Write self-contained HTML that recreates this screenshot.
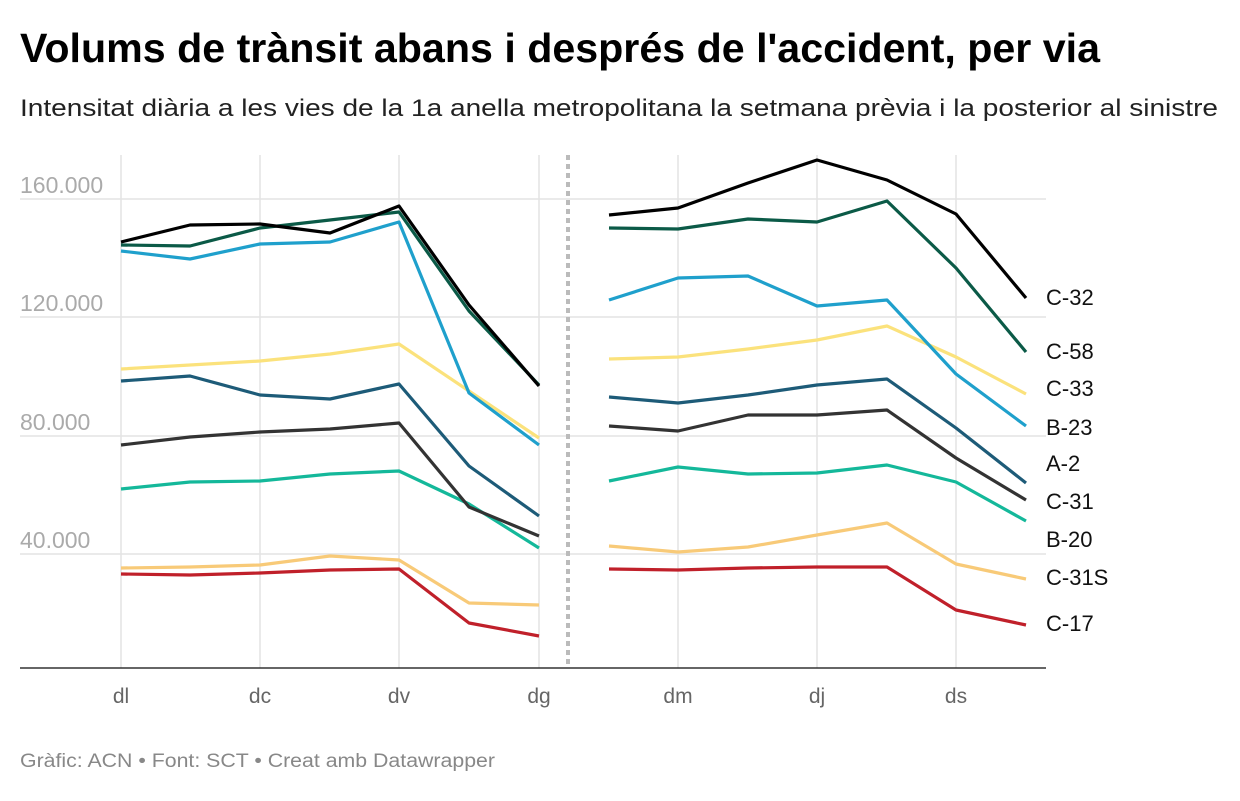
<!DOCTYPE html>
<html><head><meta charset="utf-8"><style>
body{margin:0;background:#fff;width:1240px;height:796px;overflow:hidden;font-family:"Liberation Sans",sans-serif}
</style></head><body>
<svg width="1240" height="796" xmlns="http://www.w3.org/2000/svg" font-family="Liberation Sans, sans-serif">
<text x="20" y="62" font-size="41" font-weight="bold" fill="#000" textLength="1080" lengthAdjust="spacingAndGlyphs">Volums de trànsit abans i després de l'accident, per via</text>
<text x="20" y="116" font-size="24" fill="#222" textLength="1198" lengthAdjust="spacingAndGlyphs">Intensitat diària a les vies de la 1a anella metropolitana la setmana prèvia i la posterior al sinistre</text>
<g stroke="#e3e3e3" stroke-width="1.5">
<line x1="121" y1="155" x2="121" y2="668"/><line x1="260" y1="155" x2="260" y2="668"/><line x1="399" y1="155" x2="399" y2="668"/><line x1="539" y1="155" x2="539" y2="668"/><line x1="678" y1="155" x2="678" y2="668"/><line x1="817" y1="155" x2="817" y2="668"/><line x1="956" y1="155" x2="956" y2="668"/>
<line x1="20" y1="199" x2="1046" y2="199"/><line x1="20" y1="317" x2="1046" y2="317"/><line x1="20" y1="436" x2="1046" y2="436"/><line x1="20" y1="554" x2="1046" y2="554"/>
</g>
<line x1="20" y1="668" x2="1046" y2="668" stroke="#333" stroke-width="1.5"/>
<line x1="568" y1="155" x2="568" y2="668" stroke="#bbb" stroke-width="4" stroke-dasharray="5,4"/>
<g font-size="23" fill="#aaa">
<text x="20" y="193">160.000</text><text x="20" y="311">120.000</text><text x="20" y="430">80.000</text><text x="20" y="548">40.000</text>
</g>
<g font-size="21" fill="#666" text-anchor="middle">
<text x="121" y="703">dl</text><text x="260" y="703">dc</text><text x="399" y="703">dv</text><text x="539" y="703">dg</text><text x="678" y="703">dm</text><text x="817" y="703">dj</text><text x="956" y="703">ds</text>
</g>
<g fill="none" stroke-width="3.2" stroke-linejoin="round">
<polyline stroke="#c0202a" points="121,574 190,575 260,573 330,570 399,569 469,623 539,636"/><polyline stroke="#c0202a" points="609,569 678,570 748,568 817,567 887,567 956,610 1026,625"/>
<polyline stroke="#f8ca78" points="121,568 190,567 260,565 330,556 399,560 469,603 539,605"/><polyline stroke="#f8ca78" points="609,546 678,552 748,547 817,535 887,523 956,564 1026,579"/>
<polyline stroke="#14b89a" points="121,489 190,482 260,481 330,474 399,471 469,504 539,548"/><polyline stroke="#14b89a" points="609,481 678,467 748,474 817,473 887,465 956,482 1026,521"/>
<polyline stroke="#333" points="121,445 190,437 260,432 330,429 399,423 469,507 539,536"/><polyline stroke="#333" points="609,426 678,431 748,415 817,415 887,410 956,458 1026,500"/>
<polyline stroke="#1d5b78" points="121,381 190,376 260,395 330,399 399,384 469,466 539,516"/><polyline stroke="#1d5b78" points="609,397 678,403 748,395 817,385 887,379 956,428 1026,483"/>
<polyline stroke="#fbe27c" points="121,369 190,365 260,361 330,354 399,344 469,391 539,438"/><polyline stroke="#fbe27c" points="609,359 678,357 748,349 817,340 887,326 956,357 1026,394"/>
<polyline stroke="#1fa0cc" points="121,251 190,259 260,244 330,242 399,222 469,393 539,445"/><polyline stroke="#1fa0cc" points="609,300 678,278 748,276 817,306 887,300 956,374 1026,426"/>
<polyline stroke="#0b5a47" points="121,245 190,246 260,228 330,220 399,212 469,311 539,385"/><polyline stroke="#0b5a47" points="609,228 678,229 748,219 817,222 887,201 956,268 1026,352"/>
<polyline stroke="#000" points="121,242 190,225 260,224 330,233 399,206 469,305 539,386"/><polyline stroke="#000" points="609,215 678,208 748,183 817,160 887,180 956,214 1026,298"/>
</g>
<g font-size="22" fill="#111">
<text x="1046" y="305">C-32</text><text x="1046" y="359">C-58</text><text x="1046" y="396">C-33</text><text x="1046" y="435">B-23</text><text x="1046" y="471">A-2</text><text x="1046" y="509">C-31</text><text x="1046" y="547">B-20</text><text x="1046" y="585">C-31S</text><text x="1046" y="631">C-17</text>
</g>
<text x="20" y="767" font-size="19" fill="#888" textLength="475" lengthAdjust="spacingAndGlyphs">Gràfic: ACN • Font: SCT • Creat amb Datawrapper</text>
</svg>
</body></html>
